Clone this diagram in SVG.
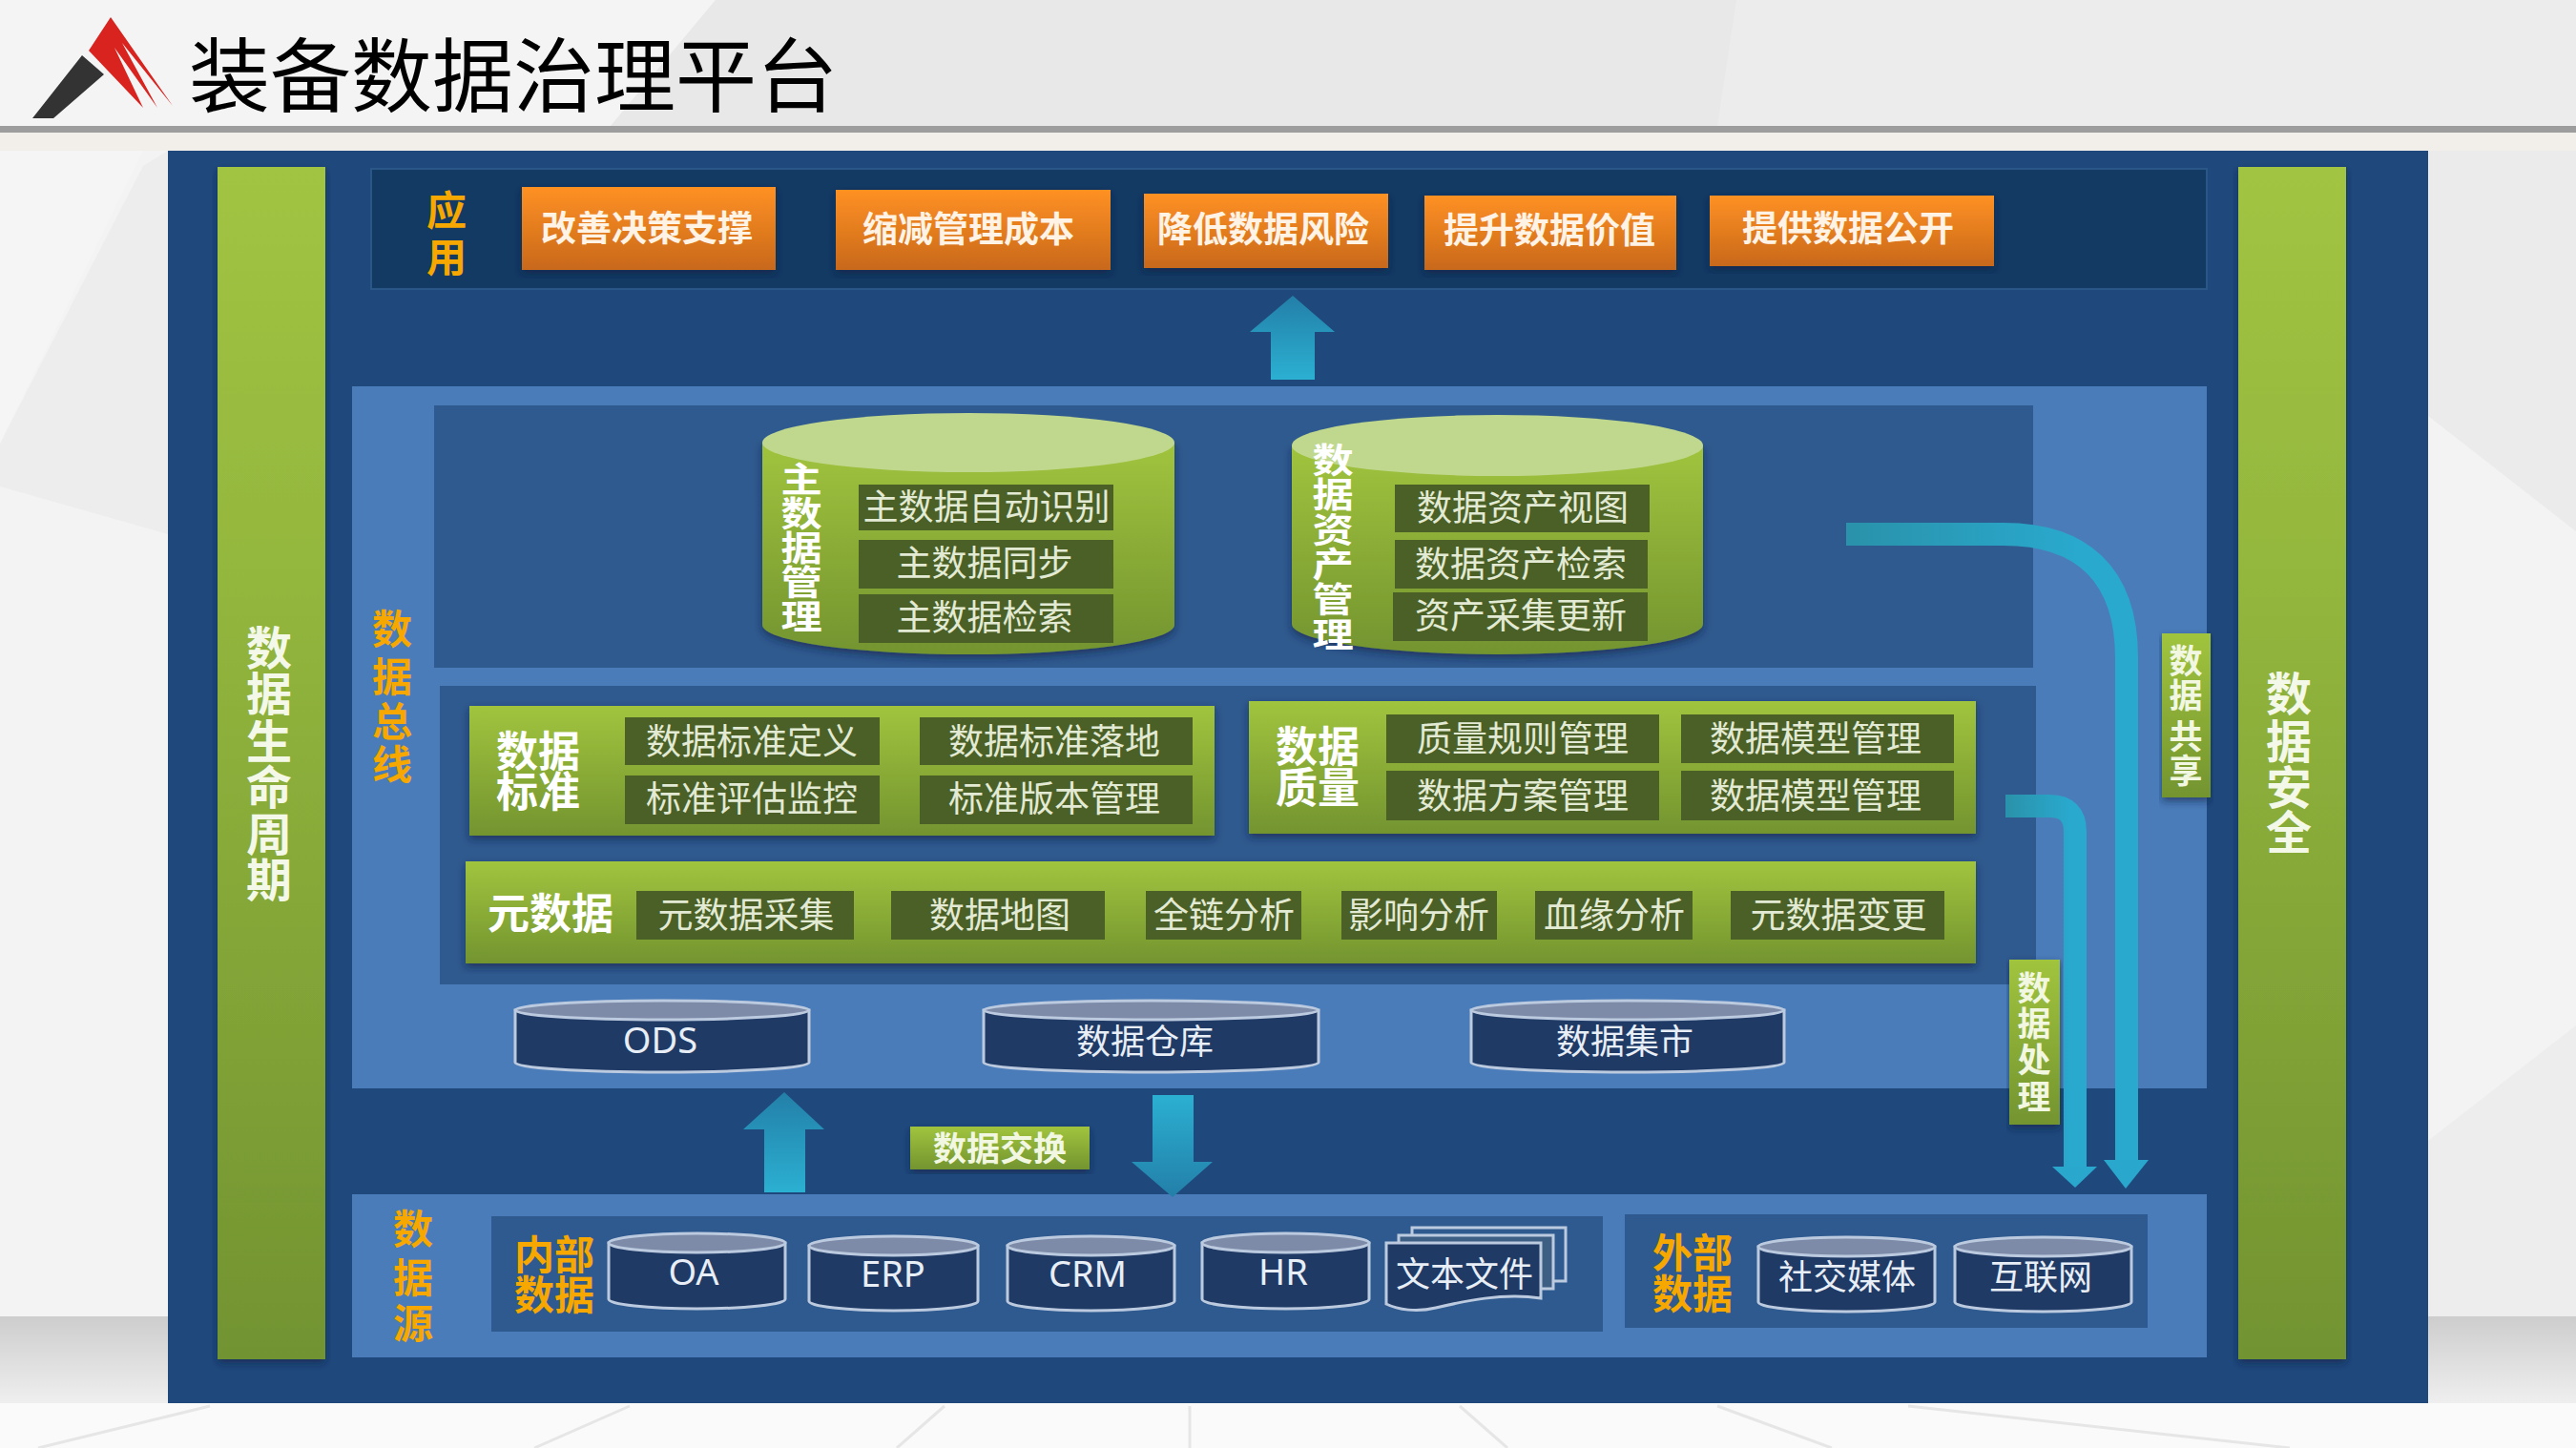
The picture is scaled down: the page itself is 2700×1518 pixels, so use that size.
<svg xmlns="http://www.w3.org/2000/svg" width="2700" height="1518" viewBox="0 0 2700 1518">
<style>
text{font-family:"Noto Sans CJK SC","Liberation Sans",sans-serif;text-anchor:middle;dominant-baseline:central;transform:translateY(-3px)}
.t36{font-size:37px;fill:#e3ead3;font-weight:400}
.latin{font-family:"Noto Sans","Noto Sans CJK SC",sans-serif;font-size:38px;fill:#e8eef6}
.db{font-size:36px;fill:#e8eef6}
.btn{font-size:37px;fill:#fff3e6;font-weight:700}
.w{font-size:44px;fill:#fff;font-weight:700}
.vw{font-size:36px;fill:#fff;font-weight:700}
.v{font-size:48px;fill:#f4f8e8;font-weight:700}
.or{font-size:42px;fill:#f7a800;font-weight:700}
.sm{font-size:35px;fill:#f2f7e2;font-weight:700}
.item{fill:#4a6027}
.panel{fill:url(#green);filter:url(#sh)}
.btnr{fill:url(#orange);filter:url(#sh)}
.cyl{fill:#203a66;stroke:#bccadf;stroke-width:3}
.cap{fill:#7d8ba8;stroke:#bccadf;stroke-width:3}
.pipe{fill:none;stroke-width:24}
.head{fill:#29a7cc}
</style>
<defs>
<linearGradient id="green" x1="0" y1="0" x2="0" y2="1"><stop offset="0" stop-color="#a1c43e"/><stop offset="1" stop-color="#73942f"/></linearGradient>
<linearGradient id="bar" x1="0" y1="0" x2="0" y2="1"><stop offset="0" stop-color="#a1c443"/><stop offset="0.35" stop-color="#93b63d"/><stop offset="1" stop-color="#729331"/></linearGradient>
<linearGradient id="orange" x1="0" y1="0" x2="0" y2="1"><stop offset="0" stop-color="#ff9122"/><stop offset="1" stop-color="#c8681c"/></linearGradient>
<linearGradient id="up" x1="0" y1="0" x2="0" y2="1"><stop offset="0" stop-color="#237fa8"/><stop offset="1" stop-color="#2bb0d2"/></linearGradient>
<linearGradient id="down" x1="0" y1="0" x2="0" y2="1"><stop offset="0" stop-color="#2bb0d2"/><stop offset="1" stop-color="#237fa8"/></linearGradient>
<linearGradient id="floor" x1="0" y1="0" x2="0" y2="1"><stop offset="0" stop-color="#cdcdcd"/><stop offset="1" stop-color="#efefef"/></linearGradient>
<linearGradient id="p1" gradientUnits="userSpaceOnUse" x1="1935" y1="0" x2="2180" y2="0"><stop offset="0" stop-color="#2a92aa"/><stop offset="1" stop-color="#29a9ce"/></linearGradient>
<linearGradient id="p2" gradientUnits="userSpaceOnUse" x1="2102" y1="0" x2="2170" y2="0"><stop offset="0" stop-color="#2a92aa"/><stop offset="1" stop-color="#29a9ce"/></linearGradient>
<filter id="sh" x="-5%" y="-5%" width="110%" height="115%"><feDropShadow dx="0" dy="4" stdDeviation="4" flood-color="#0b2240" flood-opacity="0.6"/></filter>
</defs>

<!-- background -->
<rect width="2700" height="1518" fill="#f3f3f3"/>
<rect width="2700" height="132" fill="#ececec"/>
<polygon points="0,0 750,0 640,132 0,132" fill="#f4f4f4"/>
<polygon points="750,0 1820,0 1800,132 640,132" fill="#e8e8e8"/>
<rect y="139" width="2700" height="19" fill="#f2efeb"/>
<polygon points="176,158 176,560 0,510 0,465 150,174" fill="#ededed"/>
<polygon points="0,158 150,158 0,465" fill="#f5f5f5"/>
<polygon points="2545,158 2700,158 2700,557 2545,436" fill="#ebebeb"/>
<polygon points="2700,1075 2700,1380 2545,1380 2545,1196" fill="#ededed"/>
<rect x="0" y="1380" width="176" height="92" fill="url(#floor)"/>
<rect x="2545" y="1380" width="155" height="92" fill="url(#floor)"/>
<rect y="1471" width="2700" height="47" fill="#fafafa"/>
<g fill="none" stroke="#e6e6e6" stroke-width="3">
<path d="M220,1474 L40,1518M660,1474 L560,1518M990,1474 L940,1518M1247,1474 V1518M1530,1474 L1580,1518M1800,1474 L1920,1518M2000,1474 L2400,1518"/>
</g>
<rect y="132" width="2700" height="7" fill="#9d9d9d"/>

<!-- header -->
<g id="logo">
<polygon points="34,124 56,124 109,78 86,58" fill="#333333"/>
<polygon points="116,18 93,53 150,113 120,50 165,113 128,45 181,111" fill="#d9231f"/>
</g>
<text x="538" y="76" style="font-size:85px" fill="#000">装备数据治理平台</text>

<!-- main panel -->
<rect x="176" y="158" width="2369" height="1313" fill="#1f497d"/>

<g id="lifecycle"><rect x="228" y="175" width="113" height="1250" fill="url(#bar)" filter="url(#sh)"/>
<text class="v" x="282 282 282 282 282 282" y="679 727 777 825 874 922">数据生命周期</text></g>

<g id="security"><rect x="2346" y="175" width="113" height="1250" fill="url(#bar)" filter="url(#sh)"/>
<text class="v" x="2399 2399 2399 2399" y="727 777 825 872">数据安全</text></g>

<g id="app"><rect x="389" y="177" width="1924" height="126" fill="#123a63" stroke="#2b5688" stroke-width="2"/>
<text class="or" x="468 468" y="220 269">应用</text></g>
<g id="app1"><rect class="btnr" x="547" y="196" width="266" height="87"/><text class="btn" x="678" y="240">改善决策支撑</text></g>
<g id="app2"><rect class="btnr" x="876" y="199" width="288" height="84"/><text class="btn" x="1015" y="241">缩减管理成本</text></g>
<g id="app3"><rect class="btnr" x="1199" y="203" width="256" height="78"/><text class="btn" x="1324" y="241">降低数据风险</text></g>
<g id="app4"><rect class="btnr" x="1493" y="205" width="264" height="78"/><text class="btn" x="1624" y="242">提升数据价值</text></g>
<g id="app5"><rect class="btnr" x="1792" y="205" width="298" height="74"/><text class="btn" x="1937" y="240">提供数据公开</text></g>

<g id="bus"><rect x="369" y="405" width="1944" height="736" fill="#4a7cba"/>
<text class="or" x="411 411 411 411" y="659 709 756 801">数据总线</text>
<rect x="455" y="425" width="1676" height="275" fill="#2f5a8f"/>
<rect x="461" y="719" width="1673" height="313" fill="#2f5a8f"/></g>

<g id="master"><path d="M799,464 V655 A216,31 0 0 0 1231,655 V464 Z" fill="url(#green)" filter="url(#sh)"/>
<ellipse cx="1015" cy="464" rx="216" ry="31" fill="#c0d88e"/>
<rect class="item" x="900" y="508" width="267" height="48"/><text class="t36" x="1034" y="532">主数据自动识别</text>
<rect class="item" x="900" y="566" width="267" height="51"/><text class="t36" x="1032" y="591">主数据同步</text>
<rect class="item" x="900" y="623" width="267" height="51"/><text class="t36" x="1032" y="648">主数据检索</text>
<g transform="translate(840 0) scale(1.2 1)"><text class="vw" x="0 0 0 0 0" y="503 539 575 611 647">主数据管理</text></g></g>

<g id="asset"><path d="M1354,467 V654 A215.500,32 0 0 0 1785,654 V467 Z" fill="url(#green)" filter="url(#sh)"/>
<ellipse cx="1569.500" cy="467" rx="215.500" ry="32" fill="#c0d88e"/>
<rect class="item" x="1462" y="508" width="267" height="50"/><text class="t36" x="1596" y="533">数据资产视图</text>
<rect class="item" x="1462" y="566" width="265" height="51"/><text class="t36" x="1594" y="592">数据资产检索</text>
<rect class="item" x="1460" y="621" width="267" height="51"/><text class="t36" x="1594" y="646">资产采集更新</text>
<g transform="translate(1397 0) scale(1.2 1)"><text class="vw" x="0 0 0 0 0 0" y="483 519 556 592 629 666">数据资产管理</text></g></g>

<g id="standard"><rect class="panel" x="492" y="740" width="781" height="136"/>
<text class="w"><tspan x="564" y="788">数据</tspan><tspan x="564" y="830">标准</tspan></text>
<rect class="item" x="655" y="752" width="267" height="50"/><text class="t36" x="788" y="778">数据标准定义</text>
<rect class="item" x="964" y="752" width="286" height="50"/><text class="t36" x="1105" y="778">数据标准落地</text>
<rect class="item" x="655" y="813" width="267" height="51"/><text class="t36" x="788" y="838">标准评估监控</text>
<rect class="item" x="964" y="813" width="286" height="51"/><text class="t36" x="1105" y="838">标准版本管理</text></g>

<g id="quality"><rect class="panel" x="1309" y="735" width="762" height="139"/>
<text class="w"><tspan x="1381" y="783">数据</tspan><tspan x="1381" y="826">质量</tspan></text>
<rect class="item" x="1453" y="749" width="286" height="51"/><text class="t36" x="1596" y="775">质量规则管理</text>
<rect class="item" x="1762" y="749" width="286" height="51"/><text class="t36" x="1903" y="775">数据模型管理</text>
<rect class="item" x="1453" y="808" width="286" height="52"/><text class="t36" x="1596" y="835">数据方案管理</text>
<rect class="item" x="1762" y="808" width="286" height="52"/><text class="t36" x="1903" y="835">数据模型管理</text></g>

<g id="metadata"><rect class="panel" x="488" y="903" width="1583" height="107"/>
<text class="w" x="577" y="958">元数据</text>
<rect class="item" x="667" y="934" width="228" height="51"/><text class="t36" x="782" y="960">元数据采集</text>
<rect class="item" x="934" y="934" width="224" height="51"/><text class="t36" x="1048" y="960">数据地图</text>
<rect class="item" x="1201" y="934" width="163" height="51"/><text class="t36" x="1283" y="960">全链分析</text>
<rect class="item" x="1406" y="934" width="163" height="51"/><text class="t36" x="1487" y="960">影响分析</text>
<rect class="item" x="1609" y="934" width="165" height="51"/><text class="t36" x="1692" y="960">血缘分析</text>
<rect class="item" x="1814" y="934" width="224" height="51"/><text class="t36" x="1927" y="960">元数据变更</text></g>

<g id="ods"><path class="cyl" d="M540,1059 V1114 A154,10 0 0 0 848,1114 V1059 Z"/><ellipse class="cap" cx="694" cy="1059" rx="154" ry="10"/><text class="latin" x="692" y="1092">ODS</text></g>
<g id="warehouse"><path class="cyl" d="M1031,1059 V1114 A175.500,10 0 0 0 1382,1114 V1059 Z"/><ellipse class="cap" cx="1206.500" cy="1059" rx="175.500" ry="10"/><text class="db" x="1200" y="1092">数据仓库</text></g>
<g id="mart"><path class="cyl" d="M1542,1059 V1114 A164,10 0 0 0 1870,1114 V1059 Z"/><ellipse class="cap" cx="1706" cy="1059" rx="164" ry="10"/><text class="db" x="1703" y="1092">数据集市</text></g>

<g id="exchange"><rect class="panel" x="954" y="1181" width="188" height="45"/><text class="sm" x="1048" y="1204">数据交换</text></g>

<g id="source"><rect x="369" y="1252" width="1944" height="171" fill="#4a7cba"/>
<text class="or" x="433 433 433" y="1288 1339 1387">数据源</text></g>
<g id="internal"><rect x="515" y="1275" width="1165" height="121" fill="#2f5a8f"/>
<text class="or"><tspan x="581" y="1315">内部</tspan><tspan x="581" y="1357">数据</tspan></text></g>
<g id="oa"><path class="cyl" d="M638,1303 V1362 A92.500,10 0 0 0 823,1362 V1303 Z"/><ellipse class="cap" cx="730.500" cy="1303" rx="92.500" ry="10"/><text class="latin" x="727" y="1335">OA</text></g>
<g id="erp"><path class="cyl" d="M848,1306 V1364 A88.500,10 0 0 0 1025,1364 V1306 Z"/><ellipse class="cap" cx="936.500" cy="1306" rx="88.500" ry="10"/><text class="latin" x="936" y="1337">ERP</text></g>
<g id="crm"><path class="cyl" d="M1056,1306 V1364 A87.500,10 0 0 0 1231,1364 V1306 Z"/><ellipse class="cap" cx="1143.500" cy="1306" rx="87.500" ry="10"/><text class="latin" x="1140" y="1337">CRM</text></g>
<g id="hr"><path class="cyl" d="M1260,1303 V1362 A87.500,10 0 0 0 1435,1362 V1303 Z"/><ellipse class="cap" cx="1347.500" cy="1303" rx="87.500" ry="10"/><text class="latin" x="1345" y="1335">HR</text></g>
<g id="files">
<rect x="1480" y="1287" width="161" height="56" fill="#2f5a8f" stroke="#bccadf" stroke-width="3"/>
<rect x="1466" y="1295" width="162" height="56" fill="#3c5f83" stroke="#bccadf" stroke-width="3"/>
<path class="cyl" d="M1453,1303 H1615 V1361 C1575,1355 1535,1364 1505,1371 C1485,1376 1465,1373 1453,1367 Z"/>
<text class="db" x="1535" y="1336">文本文件</text></g>

<g id="external"><rect x="1703" y="1273" width="548" height="119" fill="#2f5a8f"/>
<text class="or"><tspan x="1774" y="1313">外部</tspan><tspan x="1774" y="1356">数据</tspan></text></g>
<g id="social"><path class="cyl" d="M1843,1307 V1365 A92.500,10 0 0 0 2028,1365 V1307 Z"/><ellipse class="cap" cx="1935.500" cy="1307" rx="92.500" ry="10"/><text class="db" x="1936" y="1339">社交媒体</text></g>
<g id="internet"><path class="cyl" d="M2049,1307 V1365 A92.500,10 0 0 0 2234,1365 V1307 Z"/><ellipse class="cap" cx="2141.500" cy="1307" rx="92.500" ry="10"/><text class="db" x="2139" y="1339">互联网</text></g>

<g id="connectors">
<polygon points="1355,310 1399,348 1378,348 1378,398 1332,398 1332,348 1310,348" fill="url(#up)"/>
<polygon points="822,1145 864,1184 844,1184 844,1250 801,1250 801,1184 779,1184" fill="url(#up)"/>
<polygon points="1208,1148 1251,1148 1251,1218 1271,1218 1229,1255 1186,1218 1208,1218" fill="url(#down)"/>
<path class="pipe" stroke="url(#p1)" d="M1935,560 H2100 C2180,560 2229,600 2229,690 V1220"/>
<polygon class="head" points="2205,1216 2252,1216 2228,1246"/>
<path class="pipe" stroke="url(#p2)" d="M2102,845 H2148 Q2175,845 2175,872 V1226"/>
<polygon class="head" points="2151,1223 2198,1223 2175,1245"/>
</g>

<g id="share"><rect class="panel" x="2266" y="664" width="51" height="172"/>
<text class="sm" x="2291 2291 2291 2291" y="693 729 772 808">数据共享</text></g>
<g id="process"><rect class="panel" x="2106" y="1006" width="53" height="173"/>
<text class="sm" x="2132 2132 2132 2132" y="1036 1073 1111 1150">数据处理</text></g>
</svg>
